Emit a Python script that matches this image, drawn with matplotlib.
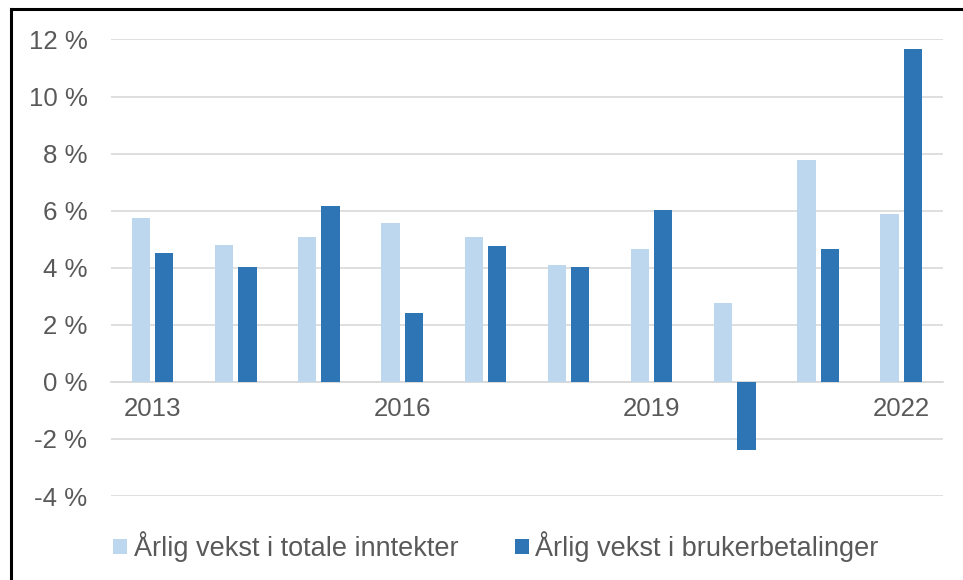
import numpy as np
import matplotlib.pyplot as plt
from matplotlib.lines import Line2D

# data
years = [2013, 2014, 2015, 2016, 2017, 2018, 2019, 2020, 2021, 2022]
total_income = [5.74, 4.81, 5.07, 5.56, 5.07, 4.08, 4.67, 2.77, 7.76, 5.88]
user_payments = [4.53, 4.03, 6.15, 2.42, 4.76, 4.03, 6.01, -2.39, 4.67, 11.68]
year_labels = ['2013', '', '', '2016', '', '', '2019', '', '', '2022']
label_total = 'Årlig vekst i totale inntekter'
label_user = 'Årlig vekst i brukerbetalinger'

plt.rcParams['font.family'] = ['Liberation Sans', 'DejaVu Sans']
txt_color = '#595959'
grid_color = '#d9d9d9'

fig = plt.figure(figsize=(9.63, 5.80), dpi=100)
ax = fig.add_axes([0.1153, 0.1448, 0.979 - 0.1153, 0.9319 - 0.1448])

x = np.arange(len(years))
w = 0.22
ax.bar(x - 0.14, total_income, w, color='#BDD7EE', label=label_total, zorder=3)
ax.bar(x + 0.14, user_payments, w, color='#2E75B6', label=label_user, zorder=3)

ax.set_xlim(-0.5, len(years) - 0.5)
ax.set_ylim(-4, 12)
yt = np.arange(-4, 13, 2)
ax.set_yticks(yt)
ax.set_yticklabels([f'{v} %' for v in yt])
ax.set_xticks(x)
ax.set_xticklabels(year_labels)

ax.grid(axis='y', color=grid_color, linewidth=1.2, zorder=0)
for s in ['top', 'right', 'left']:
    ax.spines[s].set_visible(False)
ax.spines['bottom'].set_position(('data', 0))
ax.spines['bottom'].set_color(grid_color)
ax.spines['bottom'].set_linewidth(1.2)
ax.tick_params(axis='both', length=0, labelsize=18.6, labelcolor=txt_color)
ax.tick_params(axis='y', pad=17)
ax.tick_params(axis='x', pad=11)

fig.legend(loc='center', bbox_to_anchor=(0.515, 0.057), ncol=2, frameon=False,
           fontsize=19.5, labelcolor=txt_color, handlelength=0.5, handleheight=0.5,
           handletextpad=0.25, columnspacing=2.1)

# frame lines on left and top, like the screenshot
fig.add_artist(Line2D([10.5 / 963, 10.5 / 963], [0, 1 - 9 / 580], color='black', linewidth=2.2,
                      transform=fig.transFigure))
fig.add_artist(Line2D([10.5 / 963, 1], [1 - 9 / 580, 1 - 9 / 580], color='black', linewidth=2.2,
                      transform=fig.transFigure))

fig.savefig('out.png', dpi=100)
